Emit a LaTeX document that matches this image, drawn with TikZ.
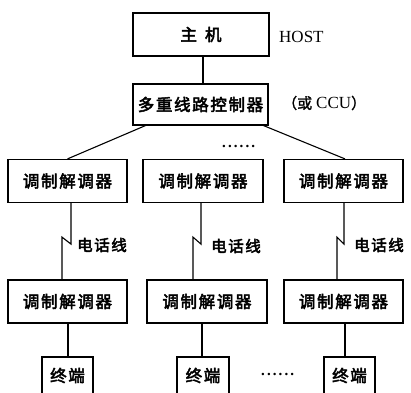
\documentclass[tikz,border=0pt]{standalone}
\usepackage{fontspec}
\newfontfamily\cjk[AutoFakeBold=3,LetterSpace=10]{Noto Sans CJK SC}
\newfontfamily\cjkn[AutoFakeBold=1.5]{Noto Sans CJK SC}
\newfontfamily\serif{Liberation Serif}
\newfontfamily\dotfont[LetterSpace=14]{Liberation Serif}
\begin{document}
\begin{tikzpicture}[x=1pt,y=-1pt,
  box/.style={draw,line width=1.2pt,inner sep=0pt,font=\cjk\bfseries\fontsize{16.5}{16.5}\selectfont},
  lbl/.style={inner sep=0pt,anchor=west},
  wire/.style={line width=1.1pt}]
\useasboundingbox (0,0) rectangle (411,392);
\clip (0,0) rectangle (411,392);
% boxes
\node[box,minimum width=136pt,minimum height=43pt] (host) at (201,34.5) {主\hspace{8pt}机};
\node[box,minimum width=135pt,minimum height=41pt] (ctrl) at (200.5,104.5) {多重线路控制器};
\node[box,minimum width=119pt,minimum height=43pt] (m1) at (67.5,181) {调制解调器};
\node[box,minimum width=120pt,minimum height=43pt] (m2) at (203,181) {调制解调器};
\node[box,minimum width=119pt,minimum height=43pt] (m3) at (343.5,181) {调制解调器};
\node[box,minimum width=119pt,minimum height=43pt] (b1) at (67.5,301.5) {调制解调器};
\node[box,minimum width=120pt,minimum height=43pt] (b2) at (207,301.5) {调制解调器};
\node[box,minimum width=119pt,minimum height=43pt] (b3) at (343.5,301.5) {调制解调器};
\node[box,minimum width=51pt,minimum height=37pt] (t1) at (67.5,375.5) {终端};
\node[box,minimum width=52pt,minimum height=37pt] (t2) at (203,375.5) {终端};
\node[box,minimum width=51pt,minimum height=37pt] (t3) at (349.5,375.5) {终端};
% labels
\node[lbl] (hostlbl) at (279,37) {\serif\fontsize{17}{17}\selectfont HOST};
\node[lbl] (ccu) at (282,103) {\cjkn\bfseries\fontsize{15}{15}\selectfont （或\hspace{4pt}{\serif\mdseries\fontsize{17}{17}\selectfont CCU}）};
\node[lbl] (dots1) at (222,146) {\dotfont\bfseries\fontsize{15}{15}\selectfont ......};
\node[lbl] (dots2) at (261,374) {\dotfont\bfseries\fontsize{15}{15}\selectfont ......};
\node[lbl] (p1) at (77,245) {\cjk\bfseries\fontsize{15.5}{15.5}\selectfont 电话线};
\node[lbl] (p2) at (211,246) {\cjk\bfseries\fontsize{15.5}{15.5}\selectfont 电话线};
\node[lbl] (p3) at (354,245) {\cjk\bfseries\fontsize{15.5}{15.5}\selectfont 电话线};
% connectors
\draw[wire] ([xshift=2pt]host.south) -- ([xshift=2.5pt]ctrl.north);
\draw[wire] ([xshift=13pt]ctrl.south west) -- (m1.north);
\draw[wire] ([xshift=2.5pt]ctrl.south) -- (ctrl.south -| m2.north) ;
\draw[wire] ([xshift=-5pt]ctrl.south east) -- ([xshift=1.5pt]m3.north);
% phone lines
\draw[wire] ([xshift=3.5pt]m1.south) -- ++(0,41) -- ++(-9,-7) -- ([xshift=-5.5pt]b1.north);
\draw[wire] ([xshift=-2pt]m2.south) -- ++(0,41) -- ++(-8,-7) -- ([xshift=-14pt]b2.north);
\draw[wire] ([xshift=0.5pt]m3.south) -- ++(0,41) -- ++(-7,-7) -- ([xshift=-6.5pt]b3.north);
% modem to terminal
\draw[wire] ([xshift=0.5pt]b1.south) -- ([xshift=0.5pt]b1.south |- t1.north);
\draw[wire] ([xshift=-5pt]b2.south) -- ([xshift=-5pt]b2.south |- t2.north);
\draw[wire] ([xshift=1.5pt]b3.south) -- ([xshift=1.5pt]b3.south |- t3.north);
\end{tikzpicture}
\end{document}
